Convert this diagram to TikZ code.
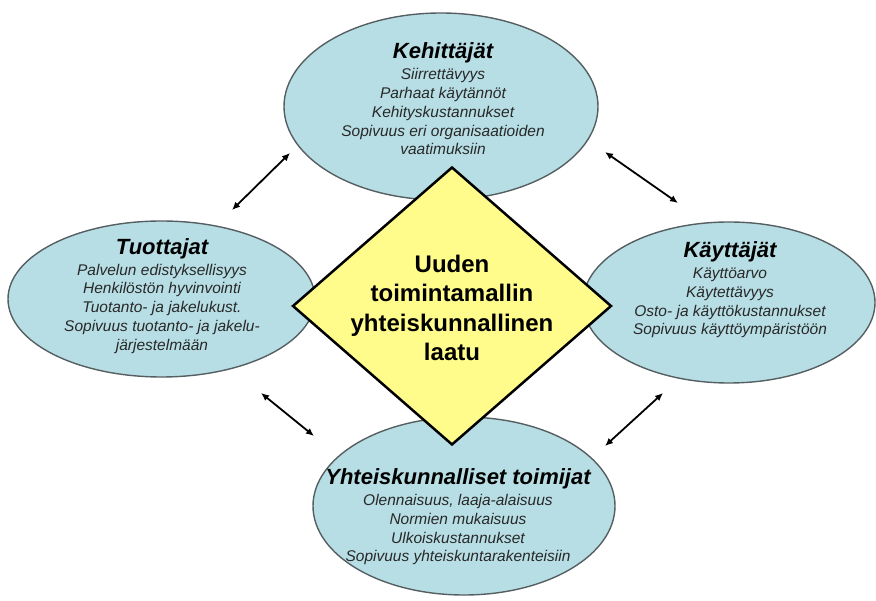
\documentclass[tikz,border=0pt]{standalone}
\usepackage{fontspec}
\setmainfont{Liberation Sans}
\usetikzlibrary{shapes.geometric,arrows.meta}

\definecolor{oval}{RGB}{183,222,228}
\definecolor{ovalline}{RGB}{85,95,98}
\definecolor{corefill}{RGB}{255,252,140}
\definecolor{bodytext}{RGB}{40,40,40}

\tikzset{
  group/.style={ellipse, draw=ovalline, line width=1.4pt, fill=oval, inner sep=0pt},
  grouptext/.style={align=center, text=bodytext, font=\fontsize{15.5}{18.8}\selectfont\itshape},
  core/.style={diamond, draw=black, line width=2.5pt, fill=corefill, inner sep=0pt,
    minimum width=319pt, minimum height=278pt},
  coretext/.style={align=center, font=\fontsize{24}{29.5}\selectfont\bfseries},
  link/.style={{Latex[length=8pt,width=7pt]}-{Latex[length=8pt,width=7pt]}, line width=1.8pt},
}
\newcommand\grouptitle[1]{{\fontsize{22}{26}\selectfont\bfseries\itshape\color{black}#1}\\[2pt]}

\begin{document}
\begin{tikzpicture}[x=1pt,y=-1pt]
\useasboundingbox (0,0) rectangle (876,601);

% the four stakeholder groups
\node[group, minimum width=314pt, minimum height=187pt] (dev)  at (441,106.5) {};
\node[group, minimum width=307pt, minimum height=156pt] (prod) at (161.5,299) {};
\node[group, minimum width=292pt, minimum height=161pt] (user) at (729,302.5) {};
\node[group, minimum width=302pt, minimum height=178pt] (soc)  at (464,506) {};

% central concept
\node[core] (quality) at (452,306) {};
\node[coretext] (qualitytext) at (452,308) {Uuden\\toimintamallin\\yhteiskunnallinen\\laatu};

% group texts
\node[grouptext] (devtext) at (443,99) {\grouptitle{Kehittäjät}Siirrettävyys\\Parhaat käytännöt\\Kehityskustannukset\\Sopivuus eri organisaatioiden\\vaatimuksiin};
\node[grouptext] (prodtext) at (162,296) {\grouptitle{Tuottajat}Palvelun edistyksellisyys\\Henkilöstön hyvinvointi\\Tuotanto- ja jakelukust.\\Sopivuus tuotanto- ja jakelu-\\järjestelmään};
\node[grouptext] (usertext) at (730,290) {\grouptitle{Käyttäjät}Käyttöarvo\\Käytettävyys\\Osto- ja käyttökustannukset\\Sopivuus käyttöympäristöön};
\node[grouptext] (soctext) at (458,517) {\grouptitle{Yhteiskunnalliset toimijat}Olennaisuus, laaja-alaisuus\\Normien mukaisuus\\Ulkoiskustannukset\\Sopivuus yhteiskuntarakenteisiin};

% two-way interactions between neighbouring groups
\coordinate (pd1) at (232,210); \coordinate (pd2) at (290,153);
\coordinate (du1) at (605,152); \coordinate (du2) at (678,203);
\coordinate (ps1) at (261,393); \coordinate (ps2) at (314,436);
\coordinate (su1) at (605,446); \coordinate (su2) at (663,393);
\draw[link] (pd1) -- (pd2);
\draw[link] (du1) -- (du2);
\draw[link] (ps1) -- (ps2);
\draw[link] (su1) -- (su2);
\end{tikzpicture}
\end{document}
